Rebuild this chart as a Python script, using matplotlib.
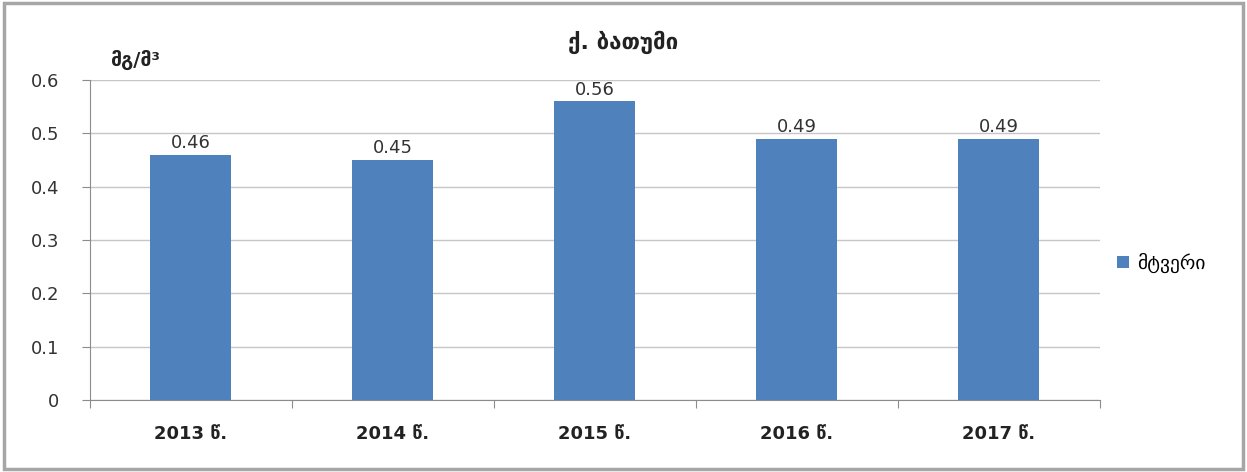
import matplotlib
matplotlib.use("Agg")
import matplotlib.pyplot as plt
from matplotlib.patches import Rectangle

categories = ["2013 წ.", "2014 წ.", "2015 წ.", "2016 წ.", "2017 წ."]
values = [0.46, 0.45, 0.56, 0.49, 0.49]
series_name = "მტვერი"
title = "ქ. ბათუმი"
unit = "მგ/მ³"
yticks = [0, 0.1, 0.2, 0.3, 0.4, 0.5, 0.6]

plt.rcParams['font.family'] = ['DejaVu Sans']

fig = plt.figure(figsize=(12.47, 4.72), dpi=100)
ax = fig.add_axes([0.072, 0.1525, 0.81, 0.678])

grid_c = "#C6C6C6"
axis_c = "#8C8C8C"
bar_c = "#4F81BD"

x = list(range(len(categories)))
bars = ax.bar(x, values, width=0.4, color=bar_c, label=series_name, zorder=3)
for xi, v in zip(x, values):
    ax.text(xi, v + 0.005, f"{v:.2f}", ha="center", va="bottom", fontsize=13, color="#333333")

ax.set_xlim(-0.5, len(categories) - 0.5)
ax.set_ylim(0, 0.6)
ax.set_yticks(yticks)
ax.set_yticklabels([f"{t:g}" for t in yticks], fontsize=13, color="#333333")
ax.yaxis.grid(True, color=grid_c, linewidth=1, zorder=0)
ax.set_axisbelow(True)

ax.set_xticks([i - 0.5 for i in range(len(categories) + 1)])
ax.set_xticklabels([""] * (len(categories) + 1))
ax.set_xticks(x, minor=True)
ax.set_xticklabels(categories, minor=True, fontsize=13, fontweight="bold", color="#222222")
ax.tick_params(axis="x", which="major", length=6, color=axis_c, direction="out")
ax.tick_params(axis="x", which="minor", length=0, pad=18)
ax.tick_params(axis="y", length=6, color=axis_c, pad=16)

for s in ["top", "right"]:
    ax.spines[s].set_visible(False)
for s in ["left", "bottom"]:
    ax.spines[s].set_color(axis_c)

fig.text(0.5, 0.91, title, ha="center", va="center", fontsize=16, fontweight="bold", color="#222222")
fig.text(0.088, 0.873, unit, ha="left", va="center", fontsize=14, fontweight="bold", color="#222222")

leg = ax.legend(loc="center left", bbox_to_anchor=(1.0, 0.428), frameon=False,
                fontsize=14, handlelength=0.6, handleheight=0.6, handletextpad=0.4)

fig.patches.append(Rectangle((0.003, 0.006), 0.994, 0.988, transform=fig.transFigure,
                             fill=False, edgecolor="#A6A6A6", linewidth=2.5))

fig.savefig("out.png", dpi=100)
